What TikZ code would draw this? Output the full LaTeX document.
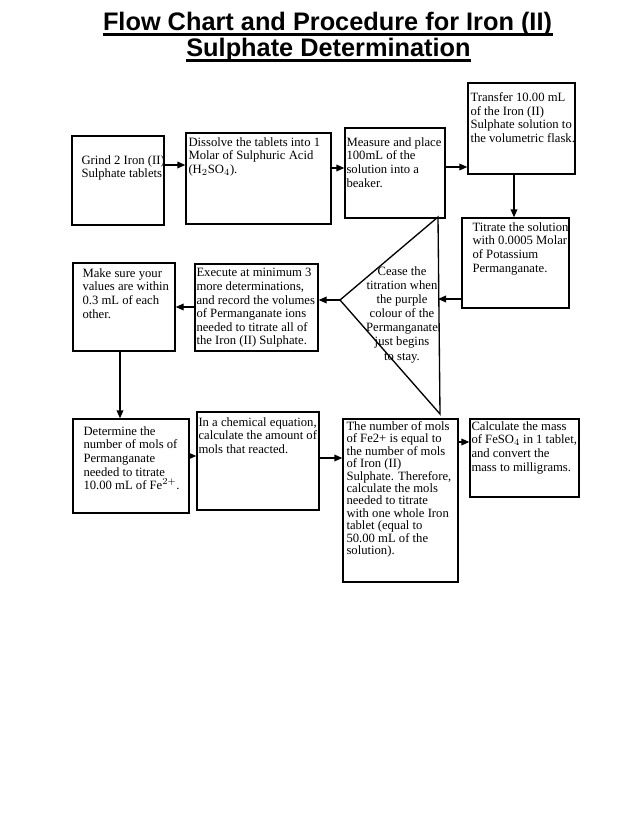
\documentclass[tikz,border=0pt]{standalone}
\usepackage{fontspec}
\setmainfont{Liberation Serif}
\newfontfamily\titlefont{Liberation Sans}
\usetikzlibrary{arrows.meta,fit}

\tikzset{every picture/.style={line width=0.75pt}}
\tikzset{
  box/.style={draw, line width=1pt, inner sep=0pt},
  txt/.style={anchor=north west, inner sep=0pt, align=left, font=\fontsize{9.5}{10.2}\selectfont},
  ttl/.style={anchor=base, inner sep=0pt, font=\titlefont\bfseries\fontsize{19}{22}\selectfont},
  arr/.style={line width=1pt, -{Triangle[length=6pt,width=5pt]}},
}

\begin{document}
\begin{tikzpicture}[x=0.75pt,y=0.75pt,yscale=-1,xscale=1]
\useasboundingbox (0,0) rectangle (640,831);

% Title
\node[ttl] (title1) at (327.5,31) {Flow Chart and Procedure for Iron (II)};
\node[ttl] (title2) at (328.5,57) {Sulphate Determination};
\draw[line width=1.6pt] ([yshift=2.6pt]title1.base west) -- ([yshift=2.6pt]title1.base east);
\draw[line width=1.6pt] ([yshift=2.6pt]title2.base west) -- ([yshift=2.6pt]title2.base east);

%Shape: Rectangle
\node[box, fit={(72,136) (164,225)}] (grind) {};
\node[box, fit={(186,133) (331,224)}] (dissolve) {};
\node[box, fit={(345,128) (445,218)}] (measure) {};
\node[box, fit={(468,83) (575,174)}] (transfer) {};
\node[box, fit={(462,218) (569,308)}] (titrate) {};
\node[box, fit={(195,264) (318,351)}] (execute) {};
\node[box, fit={(73,263) (175,351)}] (makesure) {};
\node[box, fit={(73,419) (189,513)}] (determine) {};
\node[box, fit={(197,412) (319,510)}] (chemical) {};
\node[box, fit={(343,419) (458,582)}] (number) {};
\node[box, fit={(470,419) (579,497)}] (mass) {};

%Shape: Triangle
\coordinate (tritop) at (438,217);
\coordinate (apex) at (340,300);
\coordinate (tribot) at (440,414);
\draw[line width=1pt] (tritop) -- (apex) -- (tribot) -- cycle;

% Text Node
\node[txt] (grindtxt) at (81,155) {Grind 2 Iron (II)\\Sulphate tablets.};
% Text Node
\node[txt] (dissolvetxt) at (188,137) {Dissolve the tablets into 1\\Molar of Sulphuric Acid\\(H$_2$SO$_4$).};
% Text Node
\node[txt] (measuretxt) at (346,137) {Measure and place\\100mL of the\\solution into a\\beaker.};
% Text Node
\node[txt] (transfertxt) at (470,92) {Transfer 10.00 mL\\of the Iron (II)\\Sulphate solution to\\the volumetric flask.};
% Text Node
\node[txt] (titratetxt) at (472,222) {Titrate the solution\\with 0.0005 Molar\\of Potassium\\Permanganate.};
% Text Node
\node[txt, anchor=north, align=center, font=\fontsize{9.5}{10.6}\selectfont] (ceasetxt) at (402,266) {Cease the\\titration when\\the purple\\colour of the\\Permanganate\\just begins\\to stay.};
% Text Node
\node[txt] (executetxt) at (196,268) {Execute at minimum 3\\more determinations,\\and record the volumes\\of Permanganate ions\\needed to titrate all of\\the Iron (II) Sulphate.};
% Text Node
\node[txt] (makesuretxt) at (82,268) {Make sure your\\values are within\\0.3 mL of each\\other.};
% Text Node
\node[txt] (determinetxt) at (83,426) {Determine the\\number of mols of\\Permanganate\\needed to titrate\\10.00 mL of Fe$^{2+}$.};
% Text Node
\node[txt] (chemicaltxt) at (198,417) {In a chemical equation,\\calculate the amount of\\mols that reacted.};
% Text Node
\node[txt, font=\fontsize{9.5}{9.3}\selectfont] (numbertxt) at (346,421) {The number of mols\\of Fe2+ is equal to\\the number of mols\\of Iron (II)\\Sulphate. Therefore,\\calculate the mols\\needed to titrate\\with one whole Iron\\tablet (equal to\\50.00 mL of the\\solution).};
% Text Node
\node[txt] (masstxt) at (471,421) {Calculate the mass\\of FeSO$_4$ in 1 tablet,\\and convert the\\mass to milligrams.};

%Straight Lines
\draw[arr] (grind.east |- 0,165) -- (dissolve.west |- 0,165);
\draw[arr] (dissolve.east |- 0,168) -- (measure.west |- 0,168);
\draw[arr] (measure.east |- 0,167) -- (transfer.west |- 0,167);
\draw[arr] (transfer.south -| 514,0) -- (titrate.north -| 514,0);
\draw[arr] (titrate.west |- 0,299) -- (tritop |- 0,299);
\draw[arr] (apex) -- (execute.east |- apex);
\draw[arr] (execute.west |- 0,307) -- (makesure.east |- 0,307);
\draw[arr] (makesure.south -| 120,0) -- (determine.north -| 120,0);
\draw[arr] (determine.east |- 0,456) -- (chemical.west |- 0,456);
\draw[arr] (chemical.east |- 0,458) -- (number.west |- 0,458);
\draw[arr] (number.east |- 0,442) -- (mass.west |- 0,442);

\end{tikzpicture}
\end{document}
